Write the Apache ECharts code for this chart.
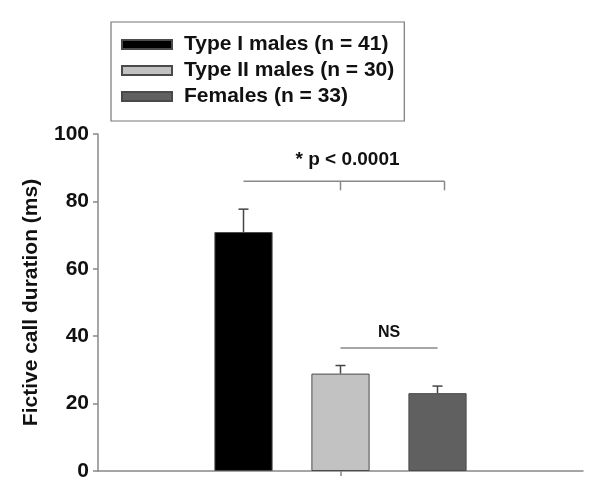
<!DOCTYPE html>
<html>
<head>
<meta charset="utf-8">
<script src="https://cdn.jsdelivr.net/npm/echarts@6/dist/echarts.min.js"></script>
<style>
  html,body{margin:0;padding:0;background:#fff;}
  #main{width:600px;height:495px;}
</style>
</head>
<body>
<div id="main"></div>
<script>
// slots on the x axis, the empty ends give the margins either side
const categories = ['', 'Type I males', 'Type II males', 'Females', ''];
const groupNames = ['Type I males (n = 41)', 'Type II males (n = 30)', 'Females (n = 33)'];
const groupSlot = [1, 2, 3];
const means = [70.9, 28.9, 23.1];
const errors = [6.8, 2.4, 2.1];
const barColors = ['#000000', '#c2c2c2', '#606060'];
const yTicks = [0, 20, 40, 60, 80, 100];

// significance brackets: [fromSlot, toSlot, y, drop, label, hasMidTick]
const brackets = [
  [1, 3, 86, 2.7, '* p < 0.0001', 1],
  [2, 3, 36.5, 0, 'NS', 0]
];

const chart = echarts.init(document.getElementById('main'));
const font = 'Liberation Sans, Arial, sans-serif';

const barSeries = groupNames.map((name, i) => ({
  name: name,
  type: 'bar',
  barWidth: '60%',
  barGap: '-100%',
  itemStyle: { color: barColors[i], borderColor: '#4a4a4a', borderWidth: 1 },
  data: categories.map((c, k) => (k === groupSlot[i] ? means[i] : '-')),
  z: 2
}));

const option = {
  animation: false,
  backgroundColor: '#fff',
  textStyle: { fontFamily: font },
  grid: { left: 98, right: 17, top: 134, bottom: 24 },
  legend: {
    orient: 'vertical',
    left: 111,
    top: 22,
    padding: [12, 10, 14, 10],
    itemGap: 5,
    itemWidth: 50,
    itemHeight: 9,
    borderColor: '#777',
    borderWidth: 1.2,
    backgroundColor: '#fff',
    selectedMode: false,
    data: groupNames.map(n => ({ name: n, icon: 'rect' })),
    textStyle: { fontFamily: font, fontSize: 21, fontWeight: 'bold', color: '#111', padding: [0, 0, 0, 7] }
  },
  xAxis: {
    type: 'category',
    data: categories,
    axisLine: { lineStyle: { color: '#888', width: 1.5 } },
    axisTick: { show: true, alignWithLabel: true, interval: (i) => i === 2, length: 5, lineStyle: { color: '#888', width: 1.5 } },
    axisLabel: { show: false },
    splitLine: { show: false }
  },
  yAxis: {
    type: 'value',
    min: yTicks[0],
    max: yTicks[yTicks.length - 1],
    interval: 20,
    name: 'Fictive call duration (ms)',
    nameLocation: 'middle',
    nameGap: 56,
    nameTextStyle: { fontFamily: font, fontSize: 21, fontWeight: 'bold', color: '#111' },
    axisLine: { show: true, lineStyle: { color: '#888', width: 1.5 } },
    axisTick: { show: true, length: 5, lineStyle: { color: '#888', width: 1.5 } },
    axisLabel: { fontFamily: font, fontSize: 21, fontWeight: 'bold', color: '#111', margin: 9 },
    splitLine: { show: false }
  },
  series: barSeries.concat([
    {
      type: 'custom',
      name: 'errors',
      z: 3,
      data: groupSlot.map((s, i) => [s, means[i], errors[i]]),
      encode: { x: 0, y: 1 },
      renderItem: function (params, api) {
        const x = api.value(0), m = api.value(1), e = api.value(2);
        const p0 = api.coord([x, m]);
        const p1 = api.coord([x, m + e]);
        const st = { stroke: '#444', lineWidth: 1.5 };
        return {
          type: 'group',
          children: [
            { type: 'line', shape: { x1: p0[0], y1: p0[1], x2: p1[0], y2: p1[1] }, style: st },
            { type: 'line', shape: { x1: p1[0] - 5, y1: p1[1], x2: p1[0] + 5, y2: p1[1] }, style: st }
          ]
        };
      }
    },
    {
      type: 'custom',
      name: 'brackets',
      z: 3,
      data: brackets,
      encode: { x: [0, 1], y: 2 },
      renderItem: function (params, api) {
        const a = api.value(0), b = api.value(1), y = api.value(2), d = api.value(3);
        const label = brackets[params.dataIndex][4];
        const mid = brackets[params.dataIndex][5];
        const pa = api.coord([a, y]);
        const pb = api.coord([b, y]);
        const drop = api.coord([a, y - d])[1];
        const st = { stroke: '#888', lineWidth: 1.5 };
        // the big bracket reaches a little past the last bar's centre
        const bx = mid ? pb[0] + 7 : pb[0];
        const kids = [
          { type: 'line', shape: { x1: pa[0], y1: pa[1], x2: bx, y2: pb[1] }, style: st }
        ];
        let cx = (pa[0] + bx) / 2;
        if (d > 0) {
          kids.push({ type: 'line', shape: { x1: bx, y1: pb[1], x2: bx, y2: drop }, style: st });
        }
        if (mid) {
          const pm = api.coord([a + 1, y]);
          kids.push({ type: 'line', shape: { x1: pm[0], y1: pm[1], x2: pm[0], y2: drop }, style: st });
          cx = pm[0] + 7;
        }
        kids.push({
          type: 'text',
          style: {
            text: label, x: cx, y: pa[1] - (mid ? 21 : 15),
            align: 'center', verticalAlign: 'middle',
            font: 'bold ' + (mid ? 19 : 16) + 'px ' + font, fill: '#111'
          }
        });
        return { type: 'group', children: kids };
      }
    }
  ])
};

chart.setOption(option);
</script>
</body>
</html>
